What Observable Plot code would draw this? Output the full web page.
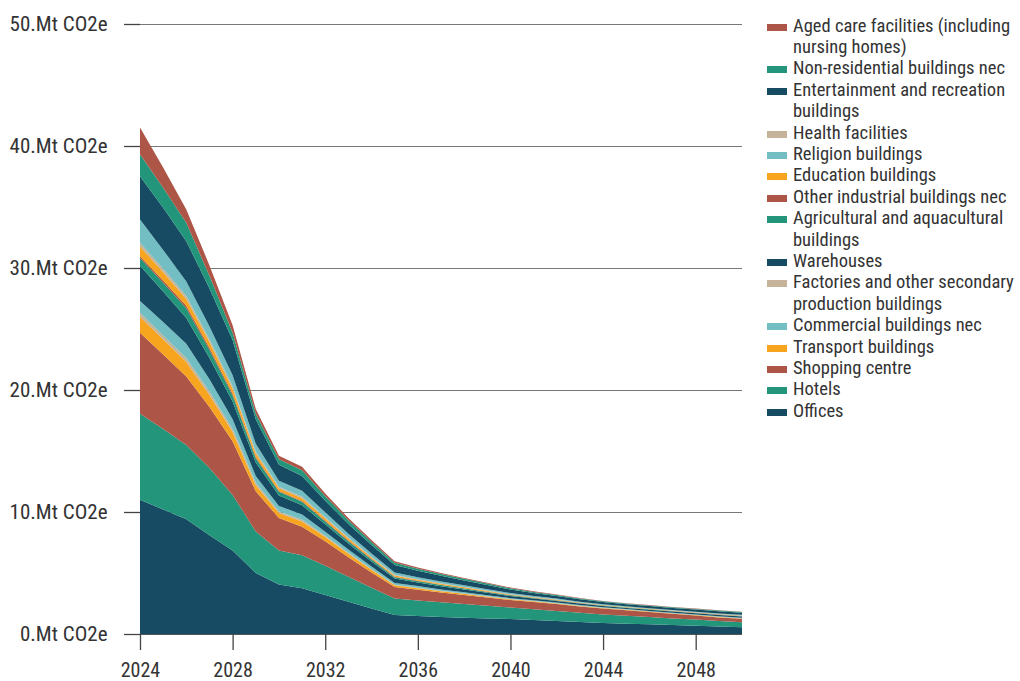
<!DOCTYPE html>
<html><head><meta charset="utf-8">
<script src="https://cdn.jsdelivr.net/npm/d3@7"></script>
<script src="https://cdn.jsdelivr.net/npm/@observablehq/plot@0.6"></script>
<style>
body{margin:0;background:#fff;font-family:"Roboto Condensed",Roboto,sans-serif;font-stretch:condensed;}
#wrap{position:relative;width:1020px;height:681px;overflow:hidden;}
#chart{position:absolute;left:0;top:0;}
#legend{position:absolute;left:767px;top:15.5px;width:253px;color:#333;font-size:18.5px;line-height:21.4px;}
.item{position:relative;padding-left:26px;}
.sw{position:absolute;left:0;top:8px;width:20px;height:7px;}
</style></head><body>
<div id="wrap"><div id="chart"></div><div id="legend"></div></div>
<script>
const years = [2024,2025,2026,2027,2028,2029,2030,2031,2032,2033,2034,2035,2036,2037,2038,2039,2040,2041,2042,2043,2044,2045,2046,2047,2048,2049,2050];
const xTicks = [2024,2028,2032,2036,2040,2044,2048];
const yTicks = [0,10,20,30,40,50];

const offices      = [11.0,10.2,9.4,8.1,6.85,5.0,4.05,3.75,3.2,2.65,2.1,1.55,1.47,1.4,1.34,1.28,1.22,1.14,1.06,0.98,0.9,0.85,0.79,0.73,0.68,0.61,0.55];
const hotels       = [7.05,6.6,6.1,5.5,4.55,3.4,2.8,2.7,2.4,2.05,1.7,1.35,1.28,1.2,1.12,1.03,0.95,0.89,0.83,0.76,0.7,0.65,0.6,0.55,0.5,0.45,0.41];
const shopping     = [6.65,6.1,5.6,5.0,4.4,3.3,2.65,2.35,2.0,1.6,1.25,0.95,0.88,0.8,0.74,0.68,0.62,0.59,0.56,0.52,0.49,0.45,0.41,0.37,0.33,0.3,0.28];
const transport    = [1.3,1.25,1.2,1.0,0.75,0.5,0.42,0.43,0.35,0.27,0.21,0.14,0.13,0.1,0.09,0.07,0.06,0.06,0.05,0.04,0.04,0.04,0.04,0.04,0.04,0.04,0.04];
const factories    = [0.33,0.32,0.3,0.28,0.25,0.2,0.13,0.14,0.11,0.09,0.07,0.05,0.04,0.04,0.03,0.03,0.02,0.02,0.02,0.02,0.02,0.01,0.01,0.01,0.01,0.01,0.01];
const commercial   = [0.96,1.1,1.2,1.0,0.8,0.55,0.45,0.42,0.33,0.26,0.2,0.15,0.13,0.11,0.1,0.09,0.07,0.06,0.06,0.05,0.04,0.04,0.04,0.04,0.04,0.04,0.04];
const warehouses   = [2.9,2.5,2.1,1.75,1.45,1.1,0.85,0.76,0.6,0.5,0.42,0.35,0.3,0.27,0.23,0.2,0.17,0.15,0.13,0.12,0.1,0.1,0.1,0.1,0.1,0.1,0.1];
const agricultural = [0.63,0.72,0.8,0.65,0.5,0.35,0.3,0.28,0.23,0.19,0.16,0.12,0.1,0.09,0.08,0.07,0.06,0.05,0.04,0.04,0.04,0.03,0.03,0.03,0.03,0.03,0.03];
const otherInd     = [0.15,0.18,0.2,0.18,0.15,0.1,0.08,0.08,0.07,0.06,0.05,0.04,0.03,0.03,0.03,0.02,0.02,0.02,0.02,0.01,0.01,0.01,0.01,0.01,0.01,0.01,0.01];
const education    = [0.8,0.68,0.55,0.48,0.4,0.3,0.22,0.22,0.18,0.15,0.12,0.1,0.09,0.08,0.07,0.06,0.05,0.04,0.04,0.03,0.03,0.03,0.03,0.03,0.03,0.03,0.03];
const health       = [0.3,0.28,0.25,0.22,0.2,0.15,0.12,0.12,0.1,0.08,0.06,0.05,0.04,0.04,0.03,0.03,0.02,0.02,0.02,0.02,0.01,0.01,0.01,0.01,0.01,0.01,0.01];
const religion     = [1.9,1.55,1.2,1.05,0.9,0.65,0.5,0.5,0.4,0.32,0.26,0.2,0.17,0.15,0.13,0.11,0.1,0.08,0.07,0.06,0.06,0.05,0.05,0.05,0.05,0.06,0.06];
const entertainment= [3.55,3.45,3.3,3.1,2.9,2.0,1.3,1.2,0.95,0.8,0.7,0.6,0.52,0.46,0.4,0.34,0.29,0.25,0.22,0.2,0.18,0.17,0.17,0.17,0.17,0.17,0.17];
const nonRes       = [1.8,1.65,1.5,1.05,0.6,0.45,0.45,0.47,0.38,0.31,0.25,0.2,0.17,0.15,0.13,0.12,0.1,0.08,0.07,0.07,0.06,0.05,0.05,0.05,0.05,0.06,0.06];
const agedCare     = [2.2,1.65,1.1,0.85,0.6,0.4,0.3,0.28,0.22,0.18,0.15,0.12,0.1,0.09,0.08,0.07,0.06,0.05,0.04,0.04,0.03,0.03,0.03,0.03,0.03,0.03,0.03];

// legend order (top to bottom as shown)
const legendNames = ["Aged care facilities (including nursing homes)","Non-residential buildings nec","Entertainment and recreation buildings","Health facilities","Religion buildings","Education buildings","Other industrial buildings nec","Agricultural and aquacultural buildings","Warehouses","Factories and other secondary production buildings","Commercial buildings nec","Transport buildings","Shopping centre","Hotels","Offices"];
const legendColors = ["#ad5647","#23957a","#164b63","#c6b49a","#72bec2","#f7a51e","#ad5647","#23957a","#164b63","#c6b49a","#72bec2","#f7a51e","#ad5647","#23957a","#164b63"];

// stack order bottom to top, as drawn
const stackNames = ["Offices","Hotels","Shopping centre","Transport buildings","Factories and other secondary production buildings","Commercial buildings nec","Warehouses","Agricultural and aquacultural buildings","Other industrial buildings nec","Education buildings","Health facilities","Religion buildings","Entertainment and recreation buildings","Non-residential buildings nec","Aged care facilities (including nursing homes)"];
const stackSeries = [offices,hotels,shopping,transport,factories,commercial,warehouses,agricultural,otherInd,education,health,religion,entertainment,nonRes,agedCare];

const data = [];
stackNames.forEach((name, i) => {
  years.forEach((yr, j) => data.push({year: yr, category: name, value: stackSeries[i][j]}));
});

const font = '"Roboto Condensed", Roboto, sans-serif';
const chart = Plot.plot({
  width: 760, height: 681,
  marginTop: 24, marginBottom: 47, marginLeft: 140, marginRight: 18,
  x: {domain: [2024, 2050], label: null},
  y: {domain: [0, 50], label: null},
  color: {domain: legendNames, range: legendColors},
  style: {fontFamily: font, fontSize: "21px", color: "#333", background: "#fff", fontStretch: "condensed", overflow: "visible"},
  marks: [
    Plot.ruleY(yTicks, {x1: 2024, x2: 2050, stroke: "#777", strokeWidth: 1.2}),
    Plot.areaY(data, {x: "year", y: "value", z: "category", fill: "category", order: stackNames}),
    Plot.ruleY([0], {x1: 2024, x2: 2050, stroke: "#555", strokeWidth: 1.2}),
    Plot.axisX({ticks: xTicks, tickFormat: d => String(d), tickSize: 16, tickPadding: 12, fontSize: 20, label: null, stroke: "#444", strokeWidth: 1.3}),
    Plot.axisY({ticks: yTicks, tickFormat: d => d + ".Mt CO2e", tickSize: 16, tickPadding: 17, label: null, stroke: "#444", strokeWidth: 1.3})
  ]
});
document.getElementById("chart").appendChild(chart);

const legend = document.getElementById("legend");
legendNames.forEach((name, i) => {
  const it = document.createElement("div");
  it.className = "item";
  const sw = document.createElement("span");
  sw.className = "sw";
  sw.style.background = legendColors[i];
  it.appendChild(sw);
  it.appendChild(document.createTextNode(name));
  legend.appendChild(it);
});
</script>
</body></html>
